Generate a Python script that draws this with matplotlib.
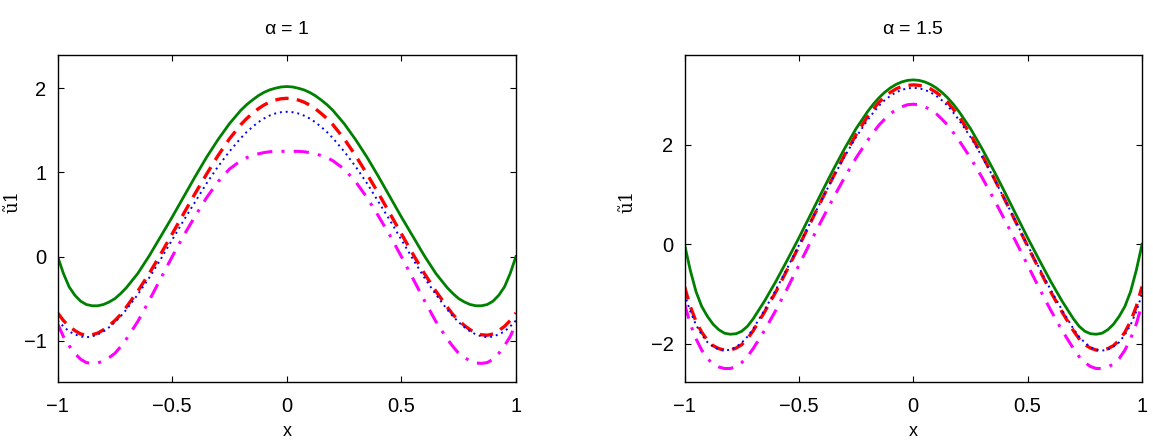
import matplotlib.pyplot as plt
import numpy as np

# x grid for the left half (curves are symmetric about x = 0)
x_half = [-1.000, -0.975, -0.950, -0.925, -0.900, -0.875, -0.850, -0.825, -0.800, -0.775,
          -0.750, -0.725, -0.700, -0.650, -0.600, -0.550, -0.500, -0.450, -0.400, -0.350,
          -0.300, -0.250, -0.200, -0.175, -0.150, -0.125, -0.100, -0.075, -0.050, -0.025,
          0.000]

# alpha = 1
a1_green = [0.00, -0.20, -0.36, -0.46, -0.53, -0.57, -0.585, -0.585, -0.57, -0.54,
            -0.50, -0.44, -0.37, -0.20, 0.01, 0.24, 0.47, 0.71, 0.95, 1.18,
            1.39, 1.58, 1.74, 1.805, 1.86, 1.91, 1.95, 1.98, 2.00, 2.015,
            2.02]
a1_red = [-0.67, -0.76, -0.83, -0.88, -0.92, -0.935, -0.93, -0.91, -0.87, -0.82,
          -0.76, -0.69, -0.60, -0.41, -0.20, 0.03, 0.27, 0.51, 0.75, 0.98,
          1.20, 1.40, 1.57, 1.64, 1.70, 1.755, 1.80, 1.835, 1.86, 1.875,
          1.88]
a1_blue = [-0.76, -0.83, -0.89, -0.925, -0.95, -0.96, -0.95, -0.925, -0.89, -0.84,
           -0.78, -0.71, -0.63, -0.45, -0.25, -0.03, 0.20, 0.43, 0.65, 0.87,
           1.07, 1.25, 1.41, 1.48, 1.54, 1.595, 1.64, 1.675, 1.70, 1.715,
           1.72]
a1_magenta = [-0.80, -0.95, -1.06, -1.15, -1.22, -1.26, -1.27, -1.265, -1.24, -1.20,
              -1.15, -1.07, -0.98, -0.77, -0.52, -0.26, 0.00, 0.25, 0.48, 0.70,
              0.89, 1.04, 1.14, 1.175, 1.20, 1.22, 1.235, 1.245, 1.25, 1.25,
              1.25]

# alpha = 1.5
a15_green = [0.00, -0.52, -0.95, -1.25, -1.45, -1.61, -1.72, -1.79, -1.81, -1.80,
             -1.75, -1.65, -1.50, -1.14, -0.74, -0.31, 0.13, 0.59, 1.05, 1.50,
             1.93, 2.33, 2.67, 2.82, 2.95, 3.06, 3.15, 3.22, 3.27, 3.30,
             3.31]
a15_red = [-0.85, -1.25, -1.55, -1.77, -1.93, -2.04, -2.10, -2.13, -2.13, -2.09,
           -2.02, -1.90, -1.74, -1.36, -0.95, -0.50, -0.04, 0.43, 0.90, 1.36,
           1.80, 2.21, 2.57, 2.72, 2.86, 2.97, 3.06, 3.13, 3.18, 3.20,
           3.21]
a15_blue = [-1.00, -1.35, -1.62, -1.82, -1.97, -2.06, -2.12, -2.14, -2.12, -2.07,
            -1.98, -1.86, -1.70, -1.32, -0.91, -0.47, -0.02, 0.44, 0.90, 1.35,
            1.77, 2.16, 2.50, 2.65, 2.79, 2.90, 2.99, 3.06, 3.11, 3.14,
            3.15]
a15_magenta = [-1.20, -1.60, -1.90, -2.13, -2.30, -2.41, -2.47, -2.50, -2.50, -2.46,
               -2.38, -2.26, -2.10, -1.73, -1.32, -0.88, -0.42, 0.04, 0.49, 0.93,
               1.35, 1.74, 2.09, 2.25, 2.40, 2.52, 2.63, 2.71, 2.77, 2.81,
               2.82]

titles = [r'$\mathrm{\alpha}$ = 1', r'$\mathrm{\alpha}$ = 1.5']
xticks = [-1, -0.5, 0, 0.5, 1]
xticklabels = ['\u22121', '\u22120.5', '0', '0.5', '1']


def mirror(vals):
    """Extend half curve (x <= 0) to full [-1, 1]"""
    vals = np.asarray(vals)
    return np.concatenate([vals, vals[-2::-1]])


x_full = np.concatenate([np.asarray(x_half), -np.asarray(x_half)[-2::-1]])

plt.rcParams['font.family'] = ['Liberation Sans', 'DejaVu Sans']
plt.rcParams['mathtext.fontset'] = 'custom'
plt.rcParams['mathtext.rm'] = 'Liberation Sans'
plt.rcParams['mathtext.it'] = 'Liberation Sans:italic'

fig = plt.figure(figsize=(11.53, 4.40), dpi=100)
ax1 = fig.add_axes([0.050, 0.132, 0.3975, 0.744])
ax2 = fig.add_axes([0.5937, 0.132, 0.3968, 0.744])

panels = [
    (ax1, [a1_green, a1_red, a1_blue, a1_magenta], (-1.49, 2.40), [-1, 0, 1, 2], -0.080),
    (ax2, [a15_green, a15_red, a15_blue, a15_magenta], (-2.77, 3.82), [-2, 0, 2], -0.105),
]

for i, (ax, curves, ylim, yticks, ylab_x) in enumerate(panels):
    g, r, b, m = [mirror(c) for c in curves]
    ax.plot(x_full, g, '-', color='#008000', lw=2.0)
    ax.plot(x_full, r, '--', color='#ff0000', lw=2.4, dashes=(4, 2.5))
    ax.plot(x_full, b, ':', color='#0000ff', lw=1.4, dashes=(1, 2))
    ax.plot(x_full, m, '-.', color='#ff00ff', lw=2.2, dashes=(5, 3, 1, 3))
    ax.set_xlim(-1, 1)
    ax.set_ylim(*ylim)
    ax.set_xticks(xticks)
    ax.set_xticklabels(xticklabels)
    ax.set_yticks(yticks)
    ax.set_yticklabels([str(t).replace('-', '\u2212') for t in yticks])
    ax.tick_params(direction='in', top=True, right=True, labelsize=14.5,
                   length=4, width=0.8)
    ax.tick_params(axis='x', pad=11)
    ax.tick_params(axis='y', pad=8)
    for sp in ax.spines.values():
        sp.set_linewidth(1.0)
    ax.set_title(titles[i], fontsize=14, pad=15)
    ax.set_xlabel('x', fontsize=13, labelpad=5)
    ax.set_ylabel('ũ1', fontsize=13, family='DejaVu Serif')
    ax.yaxis.set_label_coords(ylab_x, 0.55)

plt.savefig('out.png', dpi=100)
